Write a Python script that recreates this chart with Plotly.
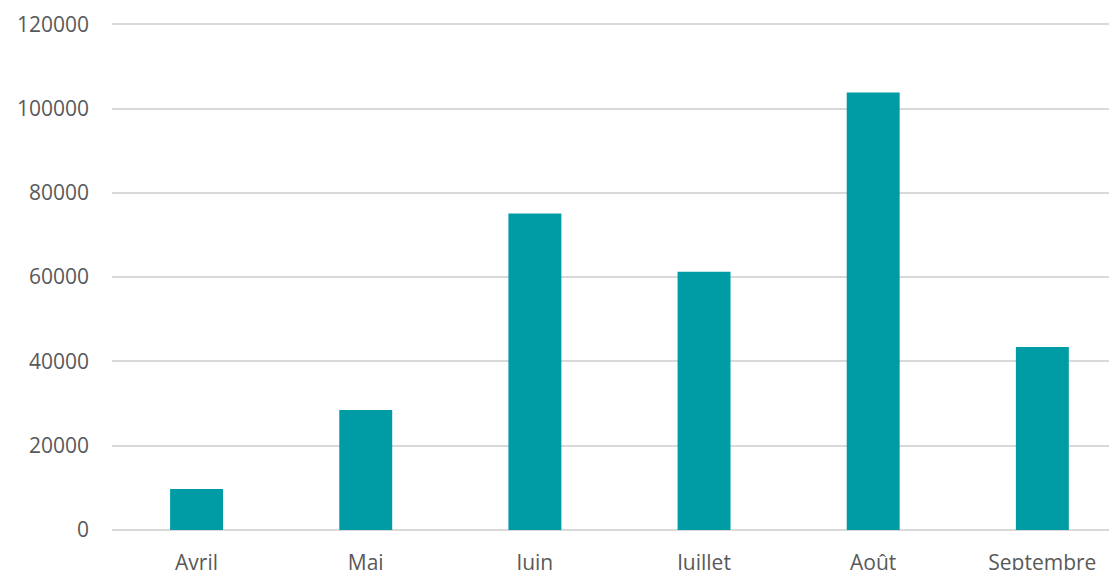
import plotly.graph_objects as go

months = ["Avril", "Mai", "Juin", "Juillet", "Août", "Septembre"]
values = [9700, 28500, 75100, 61300, 103800, 43400]
y_ticks = [0, 20000, 40000, 60000, 80000, 100000, 120000]

fig = go.Figure(
    go.Bar(
        x=months,
        y=values,
        marker=dict(color="#009CA6", line=dict(width=0)),
        width=0.313,
    )
)

fig.update_layout(
    width=1109,
    height=570,
    margin=dict(l=112, r=0, t=20, b=40, autoexpand=False),
    paper_bgcolor="white",
    plot_bgcolor="white",
    showlegend=False,
    font=dict(family="Open Sans, sans-serif", size=21, color="#595959"),
)

fig.update_xaxes(
    range=[-0.5, 5.394],
    showgrid=False,
    showline=False,
    ticks="",
    automargin=False,
    ticklabelstandoff=18,
    tickfont=dict(size=21, color="#595959"),
)

fig.update_yaxes(
    range=[0, 121000],
    tickvals=y_ticks,
    ticktext=[str(v) for v in y_ticks],
    showgrid=True,
    gridcolor="#D9D9D9",
    gridwidth=1.5,
    zeroline=True,
    zerolinecolor="#D9D9D9",
    zerolinewidth=1.5,
    showline=False,
    ticks="",
    automargin=False,
    ticklabelstandoff=22,
    tickfont=dict(size=21, color="#595959"),
)

fig.write_html(
    "out.html",
    config={"displayModeBar": False},
    post_script="document.body.style.margin='0';document.body.style.overflow='hidden';",
)
